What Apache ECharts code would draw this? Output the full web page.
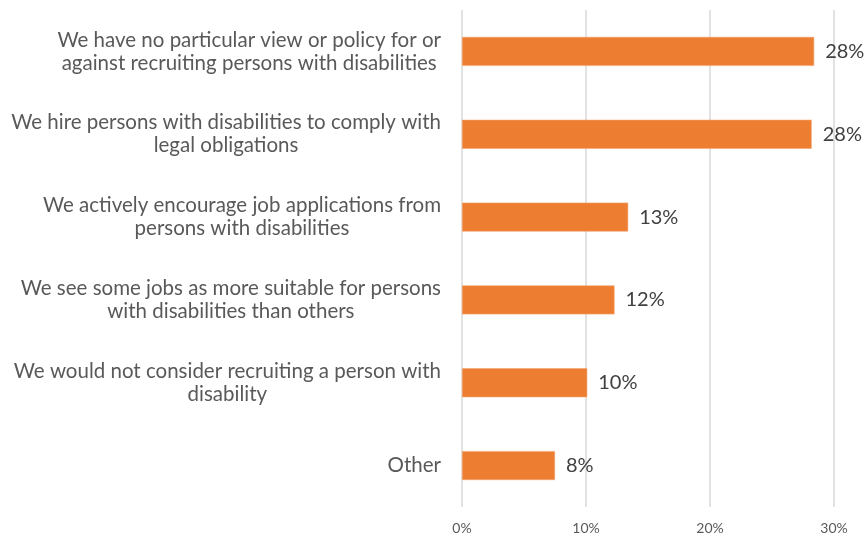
<!DOCTYPE html>
<html>
<head>
<meta charset="utf-8">
<script src="https://cdn.jsdelivr.net/npm/echarts@6/dist/echarts.min.js"></script>
<style>
  html, body { margin: 0; padding: 0; background: #fff; }
  #chart { width: 864px; height: 538px; }
</style>
</head>
<body>
<div id="chart"></div>
<script>
// Recruitment attitudes towards persons with disabilities (share of respondents, %)
const categories = [
  'We have no particular view or policy for or\nagainst recruiting persons with disabilities',
  'We hire persons with disabilities to comply with\nlegal obligations',
  'We actively encourage job applications from\npersons with disabilities',
  'We see some jobs as more suitable for persons\nwith disabilities than others',
  'We would not consider recruiting a person with\ndisability',
  'Other'
];
const values = [28.4, 28.2, 13.4, 12.3, 10.1, 7.5];
const xTicks = [0, 10, 20, 30];

const chart = echarts.init(document.getElementById('chart'), null, { renderer: 'canvas' });
const font = 'Lato, "Open Sans", sans-serif';

chart.setOption({
  animation: false,
  grid: { left: 462, right: 30, top: 10, bottom: 31, containLabel: false },
  xAxis: {
    type: 'value',
    min: xTicks[0],
    max: xTicks[xTicks.length - 1],
    interval: 10,
    axisLine: { show: false },
    axisTick: { show: false },
    splitLine: { lineStyle: { color: '#d9d9d9', width: 1.5 } },
    axisLabel: {
      color: '#595959', fontFamily: font, fontSize: 14, margin: 14,
      formatter: v => v + '%'
    }
  },
  yAxis: {
    type: 'category',
    inverse: true,
    data: categories,
    axisLine: { show: false },
    axisTick: { show: false },
    axisLabel: {
      margin: 21,
      align: 'right',
      // each line is centred within the right-aligned label block
      formatter: v => v.split('\n').map(s => '{c|' + s + '}').join('\n'),
      rich: {
        c: {
          align: 'center',
          color: '#595959', fontFamily: font, fontSize: 20.5, lineHeight: 23
        }
      }
    }
  },
  series: [{
    type: 'bar',
    data: values,
    barCategoryGap: '65%',
    itemStyle: { color: '#ED7D31', borderColor: '#F3A46F', borderWidth: 0.6 },
    label: {
      show: true, position: 'right', distance: 11,
      color: '#404040', fontFamily: font, fontSize: 20,
      formatter: p => Math.round(p.value) + '%'
    }
  }]
});
</script>
</body>
</html>
